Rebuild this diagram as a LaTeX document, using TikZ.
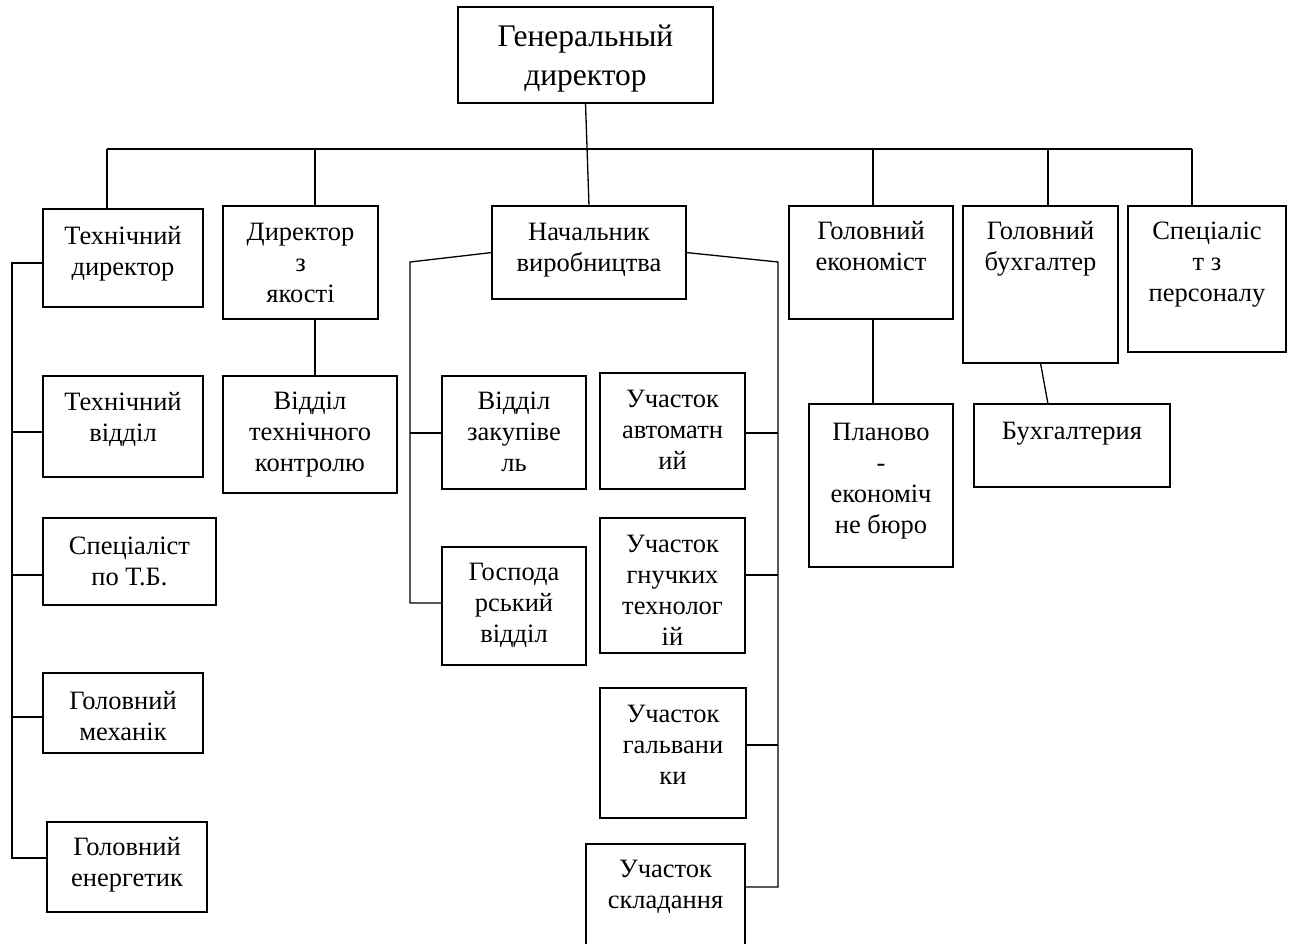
\documentclass[tikz,border=0pt]{standalone}
\usepackage{fontspec}
\setmainfont{Liberation Serif}
\newcommand\lns[1]{\begin{tabular}[t]{@{}c@{}}#1\end{tabular}}
\newcommand\orgbox[7]{%
  \node[box, minimum width={(#4)-(#2)}, minimum height={(#5)-(#3)}] (#1) at ({((#2)+(#4))/2},{((#3)+(#5))/2}) {};
  \node[txt] (#1t) at ({((#2)+(#4))/2},{(#6)+1.5}) {\lns{#7}};
}
\tikzset{
  box/.style={draw, line width=1.3pt, inner sep=0pt, outer sep=0pt},
  txt/.style={anchor=base, inner sep=0pt, font=\fontsize{26.5}{31}\selectfont},
  conn/.style={draw, line width=1.3pt}
}
\begin{document}
\begin{tikzpicture}[x=1pt,y=-1pt]
\useasboundingbox (0,0) rectangle (1292,943);
\fill[white] (0,0) rectangle (1292,943);
% top
\node[box, minimum width=255, minimum height=96] (gen) at (585.5,55) {};
\node[txt, font=\fontsize{31.5}{39}\selectfont] (gent) at (585.5,46.5) {\lns{Генеральный\\директор}};
% level 1
\orgbox{tdir}{43}{209}{203}{307}{243}{Технічний\\директор}
\orgbox{dyak}{223}{206}{378}{319}{239}{Директор\\з\\якості}
\orgbox{nach}{492}{206}{686}{299}{239}{Начальник\\виробництва}
\orgbox{gek}{789}{206}{953}{319}{238}{Головний\\економіст}
\orgbox{gbuh}{963}{206}{1118}{363}{238}{Головний\\бухгалтер}
\orgbox{sper}{1128}{206}{1286}{352}{238}{Спеціаліс\\т з\\персоналу}
% lower levels
\orgbox{tvid}{43}{376}{203}{477}{409}{Технічний\\відділ}
\orgbox{vtk}{223}{376}{397}{493}{408}{Відділ\\технічного\\контролю}
\orgbox{zak}{442}{376}{586}{489}{408}{Відділ\\закупіве\\ль}
\orgbox{avt}{600}{373}{745}{489}{406}{Участок\\автоматн\\ий}
\orgbox{plan}{809}{404}{953}{567}{439}{Планово\\-\\економіч\\не бюро}
\orgbox{buhg}{974}{404}{1170}{487}{438}{Бухгалтерия}
\orgbox{stb}{43}{518}{216}{605}{553}{Спеціаліст\\по Т.Б.}
\orgbox{gosp}{442}{547}{586}{665}{579}{Господа\\рський\\відділ}
\orgbox{gnuch}{600}{518}{745}{653}{551}{Участок\\гнучких\\технолог\\ій}
\orgbox{mech}{43}{673}{203}{753}{708}{Головний\\механік}
\orgbox{galv}{600}{688}{746}{818}{721}{Участок\\гальвани\\ки}
\orgbox{energ}{47}{822}{207}{912}{854}{Головний\\енергетик}
\orgbox{skl}{586}{844}{745}{962}{876}{Участок\\складання}
% bus
\coordinate (bL) at (107,149);
\coordinate (bQ) at (315,149);
\coordinate (bE) at (873,149);
\coordinate (bB) at (1048,149);
\coordinate (bR) at (1192,149);
\path[conn] (bL) -- (bR);
\path[conn] (gen.south) -- (nach.north);
\path[conn] (bL) -- (bL |- tdir.north);
\path[conn] (bQ) -- (bQ |- dyak.north);
\path[conn] (bQ |- dyak.south) -- (bQ |- vtk.north);
\path[conn] (bE) -- (bE |- gek.north);
\path[conn] (bE |- gek.south) -- (bE |- plan.north);
\path[conn] (bB) -- (bB |- gbuh.north);
\path[conn] (gbuh.south) -- (bB |- buhg.north);
\path[conn] (bR) -- (bR |- sper.north);
% technical spine
\coordinate (tT) at (12,263);
\coordinate (tB) at (12,858);
\path[conn] (tdir.west |- tT) -- (tT) -- (tB) -- (energ.west |- tB);
\coordinate (t1) at (12,432);
\coordinate (t2) at (12,575);
\coordinate (t3) at (12,717);
\path[conn] (t1) -- (tvid.west |- t1);
\path[conn] (t2) -- (stb.west |- t2);
\path[conn] (t3) -- (mech.west |- t3);
% production spines
\coordinate (pL) at (410,262);
\coordinate (pLb) at (410,603);
\coordinate (pL1) at (410,433);
\path[conn] (nach.west) -- (pL) -- (pLb) -- (gosp.west |- pLb);
\path[conn] (pL1) -- (zak.west |- pL1);
\coordinate (pR) at (778,262);
\coordinate (pRb) at (778,887);
\coordinate (pR1) at (778,433);
\coordinate (pR2) at (778,575);
\coordinate (pR3) at (778,745);
\path[conn] (nach.east) -- (pR) -- (pRb) -- (skl.east |- pRb);
\path[conn] (pR1) -- (avt.east |- pR1);
\path[conn] (pR2) -- (gnuch.east |- pR2);
\path[conn] (pR3) -- (galv.east |- pR3);
\end{tikzpicture}
\end{document}
